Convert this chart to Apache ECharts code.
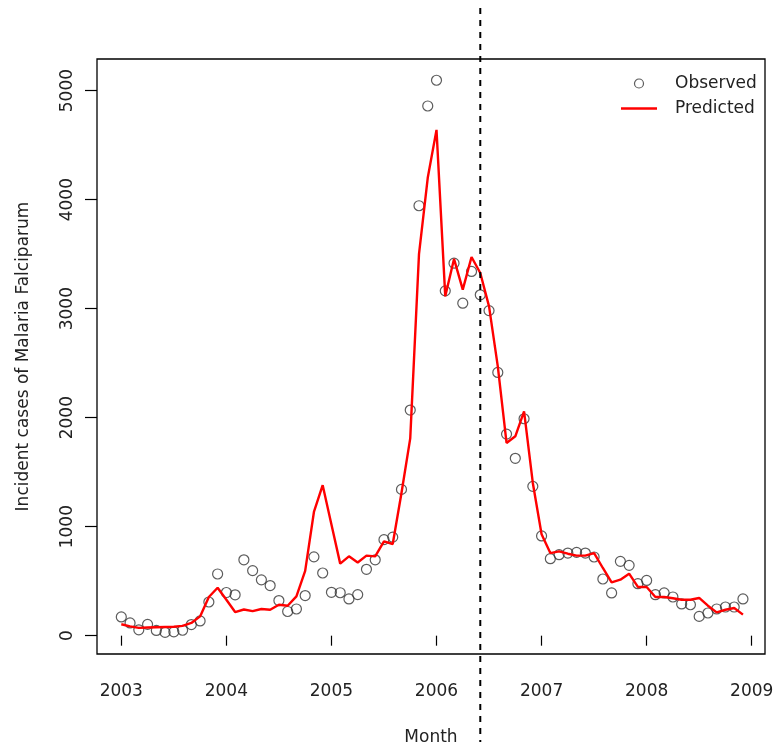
<!DOCTYPE html>
<html>
<head>
<meta charset="utf-8">
<script src="https://cdn.jsdelivr.net/npm/echarts@6/dist/echarts.min.js"></script>
<style>html,body{margin:0;padding:0;background:#fff;}#c{width:773px;height:746px;}</style>
</head>
<body>
<div id="c"></div>
<script>
// ---- data ----
const startYear = 2003;            // first month = Jan 2003, monthly series
const xTickYears = [2003, 2004, 2005, 2006, 2007, 2008, 2009];
const yTicks = [0, 1000, 2000, 3000, 4000, 5000];
const observed = [
  172, 117, 54, 104, 48, 30, 35, 50, 102, 135, 309, 566,
  396, 375, 696, 597, 512, 460, 322, 222, 245, 368, 723, 575,
  398, 394, 337, 377, 609, 696, 881, 904, 1342, 2070, 3944, 4859,
  5095, 3163, 3417, 3050, 3341, 3127, 2982, 2415, 1849, 1627, 1990, 1370,
  915, 706, 743, 758, 764, 758, 722, 520, 392, 682, 645, 477,
  507, 376, 392, 355, 291, 284, 177, 208, 245, 263, 263, 337
];
const predicted = [
  105, 85, 72, 75, 78, 80, 82, 90, 117, 177, 355, 440,
  330, 217, 240, 225, 245, 238, 284, 275, 361, 595, 1135, 1380,
  1020, 661, 728, 672, 734, 728, 865, 841, 1309, 1810, 3500, 4200,
  4640, 3113, 3456, 3174, 3474, 3327, 3021, 2471, 1768, 1829, 2058, 1401,
  930, 758, 774, 752, 734, 734, 758, 621, 489, 514, 569, 447,
  447, 355, 355, 343, 330, 330, 346, 275, 214, 238, 254, 193
];
const cutoffMonthIndex = 41;       // June 2006: end of fitting period

// ---- build ----
const t = i => startYear + i / 12;
const obsData = observed.map((v, i) => [t(i), v]);
const predData = predicted.map((v, i) => [t(i), v]);

const FONT = 'DejaVu Sans';
const TXT = '#222';
const chart = echarts.init(document.getElementById('c'), null, {renderer: 'canvas'});
chart.setOption({
  animation: false,
  backgroundColor: '#fff',
  textStyle: {fontFamily: FONT},
  grid: {
    left: 97, right: 8, top: 59, bottom: 92, containLabel: false, outerBoundsMode: 'none',
    show: true, borderColor: '#000', borderWidth: 1.3, backgroundColor: 'transparent'
  },
  legend: {
    left: 621, top: 75, orient: 'vertical', itemWidth: 36, itemHeight: 9, itemGap: 8, padding: 0,
    textStyle: {fontFamily: FONT, fontSize: 17, color: TXT, padding: [0, 0, 0, 13]},
    data: [
      {name: 'Observed', icon: 'circle', itemStyle: {color: 'transparent', borderColor: '#333', borderWidth: 1.2}},
      {name: 'Predicted', icon: 'path://M0,0 L36,0 L36,2.4 L0,2.4 Z', itemStyle: {color: '#ff0000'}}
    ]
  },
  xAxis: {
    type: 'value', min: 2002.7687, max: 2009.1265,
    name: 'Month', nameLocation: 'middle', nameGap: 75,
    nameTextStyle: {fontFamily: FONT, fontSize: 17, color: TXT},
    axisLine: {show: false},
    splitLine: {show: false},
    axisTick: {show: true, length: 10, customValues: xTickYears, lineStyle: {color: '#000', width: 1.2}},
    axisLabel: {customValues: xTickYears, margin: 29, fontFamily: FONT, fontSize: 17, color: TXT, formatter: v => String(v)}
  },
  yAxis: {
    type: 'value', min: -168, max: 5290,
    name: 'Incident cases of Malaria Falciparum', nameLocation: 'middle', nameGap: 65, nameRotate: 90,
    nameTextStyle: {fontFamily: FONT, fontSize: 17, color: TXT},
    axisLine: {show: false},
    splitLine: {show: false},
    axisTick: {show: true, length: 12, customValues: yTicks, lineStyle: {color: '#000', width: 1.2}},
    axisLabel: {customValues: yTicks, rotate: 90, margin: 21, fontFamily: FONT, fontSize: 17, color: TXT, formatter: v => String(v)}
  },
  series: [
    {
      name: 'Observed', type: 'scatter', data: obsData, symbol: 'circle', symbolSize: 10,
      itemStyle: {color: 'transparent', borderColor: '#333', borderWidth: 1.2}, z: 2
    },
    {
      name: 'Predicted', type: 'line', data: predData, symbol: 'none',
      lineStyle: {color: '#ff0000', width: 2.4}, itemStyle: {color: '#ff0000'}, z: 3
    }
  ]
});
const px = chart.convertToPixel({xAxisIndex: 0}, t(cutoffMonthIndex));
chart.setOption({
  graphic: [{
    type: 'line', z: 10,
    shape: {x1: px, y1: 8, x2: px, y2: 742},
    style: {stroke: '#000', lineWidth: 2, lineDash: [6, 6]}
  }]
});
</script>
</body>
</html>
